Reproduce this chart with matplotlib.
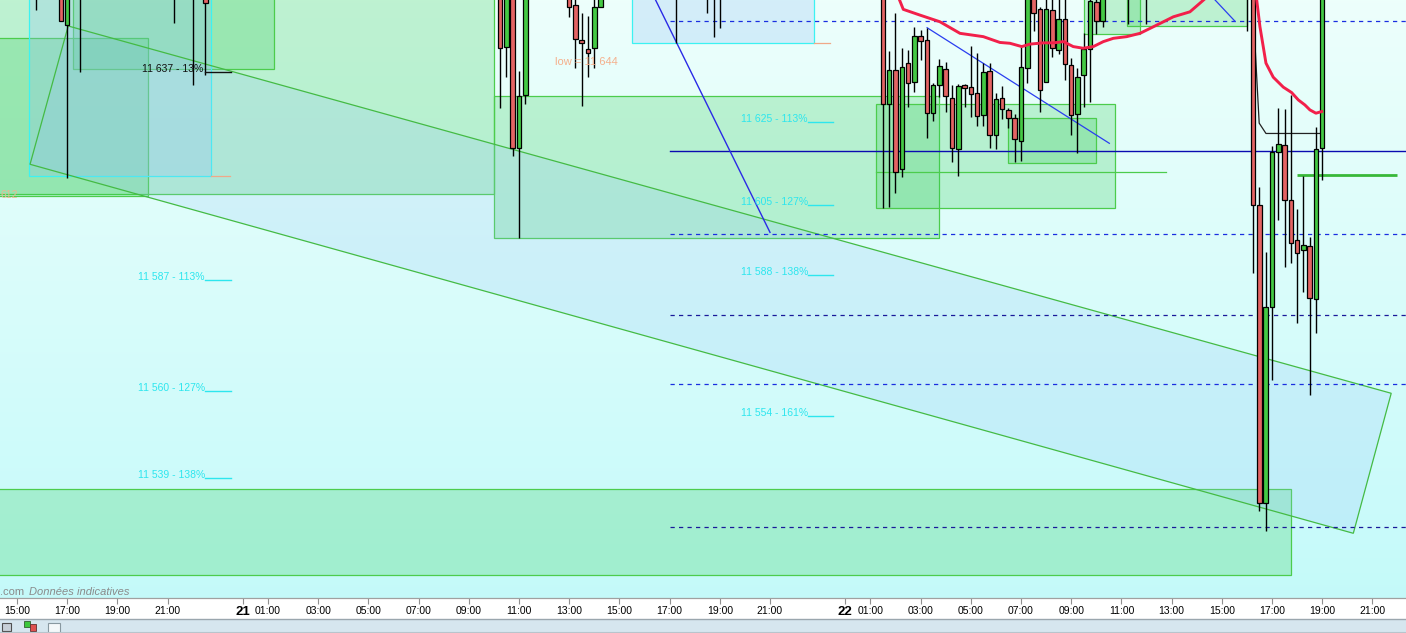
import matplotlib
matplotlib.use('Agg')
import matplotlib.pyplot as plt
from matplotlib.patches import Rectangle, Polygon
import numpy as np

plt.rcParams['font.family'] = ['Liberation Sans', 'DejaVu Sans']

# ------------------------------------------------------------------ data
# 15-minute candles, time = "day hh:mm"
candle_time = [
    '20 15:45', '20 16:45', '20 17:00', '20 17:30', '20 21:15', '20 22:00', '20 22:30',
    '21 10:15', '21 10:30', '21 10:45', '21 11:00', '21 11:15',
    '21 13:00', '21 13:15', '21 13:30', '21 13:45', '21 14:00', '21 14:15',
    '21 17:15', '21 18:30', '21 18:45', '21 19:00',
    '22 01:30', '22 01:45', '22 02:00', '22 02:15', '22 02:30', '22 02:45',
    '22 03:00', '22 03:15', '22 03:30', '22 03:45', '22 04:00', '22 04:15',
    '22 04:30', '22 04:45', '22 05:00', '22 05:15', '22 05:30', '22 05:45',
    '22 06:00', '22 06:15', '22 06:30', '22 06:45', '22 07:00', '22 07:15',
    '22 07:30', '22 07:45', '22 08:00', '22 08:15', '22 08:30', '22 08:45',
    '22 09:00', '22 09:15', '22 09:30', '22 09:45', '22 10:00', '22 10:15',
    '22 11:15', '22 12:00', '22 16:00',
    '22 16:15', '22 16:30', '22 16:45', '22 17:00', '22 17:15', '22 17:30',
    '22 17:45', '22 18:00', '22 18:15', '22 18:30', '22 18:45', '22 19:00',
]
candle_open = [
    11658, 11658, 11648.5, 11660, 11662, 11660, 11660,
    11660, 11643.3, 11660, 11618.7, 11631.6,
    11658, 11653.3, 11644.8, 11642.6, 11642.9, 11652.8,
    11660, 11662, 11660, 11662,
    11662, 11629.5, 11637.6, 11613.6, 11639.3, 11634.7,
    11645.8, 11644.8, 11627.3, 11633.9, 11637.8, 11630.8,
    11618.5, 11633.9, 11633.5, 11632.0, 11626.7, 11637.3,
    11621.9, 11630.8, 11627.9, 11626.0, 11620.4, 11638.1,
    11660, 11652.3, 11634.7, 11652.1, 11642.4, 11649.9,
    11638.8, 11626.9, 11636.4, 11642.6, 11654.0, 11649.4,
    11660, 11660, 11662,
    11662, 11604.9, 11533.1, 11580.3, 11617.9, 11619.4,
    11606.2, 11596.5, 11594.1, 11595.0, 11582.2, 11618.9,
]
candle_high = [
    11668, 11662, 11660, 11667, 11668, 11666, 11663,
    11662, 11663, 11662, 11637.4, 11661,
    11660, 11657, 11651.3, 11650.7, 11656, 11660,
    11665, 11666, 11664, 11665,
    11665, 11642.2, 11651.3, 11642.9, 11642.5, 11648.1,
    11647.3, 11647.7, 11634.5, 11640.2, 11639.5, 11634.1,
    11634.2, 11634.2, 11643.4, 11641.7, 11639.3, 11639.3,
    11632.2, 11633.7, 11628.5, 11627.0, 11643.3, 11664,
    11663, 11652.9, 11657, 11656, 11656, 11656,
    11640.5, 11638.1, 11646.5, 11657, 11657, 11660,
    11665, 11665, 11668,
    11668, 11609.3, 11593.6, 11619.2, 11628.4, 11628.1,
    11631.6, 11604.0, 11612.0, 11597.3, 11623.8, 11668,
]
candle_low = [
    11652.1, 11649.5, 11611.5, 11637.2, 11649.0, 11634.0, 11636.4,
    11628.4, 11636.0, 11616.9, 11597.1, 11629.4,
    11650.5, 11638.2, 11629.0, 11636.0, 11638.2, 11652.8,
    11644.1, 11651.3, 11645.5, 11647.7,
    11604.4, 11604.6, 11607.8, 11611.7, 11628.8, 11632.4,
    11640.1, 11621.3, 11625.4, 11631.2, 11627.6, 11615.5,
    11611.9, 11628.6, 11626.4, 11624.1, 11624.2, 11618.9,
    11618.6, 11625.7, 11623.6, 11615.5, 11615.7, 11634.4,
    11647.1, 11627.4, 11634.7, 11640.7, 11641.4, 11635.2,
    11622.0, 11617.5, 11628.6, 11629.8, 11646.3, 11648.1,
    11648.8, 11648.7, 11647.1,
    11588.6, 11531.1, 11526.3, 11562.7, 11601.4, 11590.1,
    11590.9, 11576.6, 11584.1, 11559.2, 11574.1, 11611.0,
]
candle_close = [
    11663, 11649.5, 11657, 11664, 11660, 11663, 11653.8,
    11642.9, 11660, 11618.7, 11631.4, 11658,
    11652.9, 11645.2, 11644.1, 11641.7, 11652.8, 11658,
    11662, 11660, 11662, 11660,
    11629.5, 11637.6, 11613.0, 11638.3, 11634.4, 11645.8,
    11644.6, 11627.2, 11633.9, 11638.5, 11631.3, 11618.7,
    11633.7, 11633.2, 11631.8, 11626.5, 11637.1, 11621.9,
    11630.6, 11628.1, 11626.0, 11620.9, 11638.3, 11660,
    11651.5, 11632.7, 11652.3, 11642.9, 11649.9, 11639.0,
    11626.7, 11635.9, 11642.6, 11654.2, 11649.4, 11658,
    11662, 11662, 11665,
    11604.9, 11533.1, 11580.4, 11617.9, 11619.7, 11606.2,
    11595.8, 11593.3, 11595.3, 11582.5, 11618.6, 11665,
]

# moving average (red) – hours since 21st 00:00, price
ma_hours = [26.0, 26.31, 26.98, 27.77, 28.57, 29.50, 30.16, 30.56, 31.03, 31.36,
            31.89, 32.29, 32.69, 33.08, 33.48, 33.88, 34.28, 34.68, 35.21, 35.74,
            36.41, 37.07, 37.73, 38.13, 38.73, 39.3, 40.0, 40.39, 40.52, 40.76,
            41.05, 41.45, 41.78, 42.05, 42.31, 42.51, 42.75, 42.98]
ma_value = [11657.0, 11652.3, 11650.9, 11649.3, 11646.5, 11645.7, 11644.3, 11644.1,
            11643.3, 11643.9, 11644.2, 11644.2, 11644.5, 11643.3, 11642.9, 11643.3,
            11644.5, 11645.3, 11645.7, 11646.5, 11648.5, 11650.5, 11651.7, 11653.8,
            11657.0, 11662.0, 11660.0, 11654.6, 11648.1, 11639.3, 11635.9, 11633.5,
            11632.2, 11630.4, 11629.2, 11628.0, 11627.2, 11627.6]

# grey trailing line
trail_hours = [40.25, 40.32, 40.44, 40.49, 40.76, 43.02]
trail_value = [11660.0, 11644.2, 11630.4, 11624.8, 11622.3, 11622.3]

# fibonacci level labels
levels_left = [11587, 11560, 11539]
levels_left_pct = ['113%', '127%', '138%']
levels_mid = [11625, 11605, 11588, 11554]
levels_mid_pct = ['113%', '127%', '138%', '161%']
level_13 = 11637
low_value = 11644

# horizontal lines from 21st 17:00
dashed_levels = [11649.4, 11597.9, 11578.35, 11561.7, 11527.1]
dashed_colors = ['#1a2ee0', '#1a2ee0', '#1a1a9a', '#1a2ee0', '#1a1a9a']
solid_level = 11618.0

# x axis ticks (hours since 21st 00:00)
tick_hours = [-9, -7, -5, -3, 0] + list(range(1, 22, 2)) + [24] + list(range(25, 46, 2))


def th(s):
    d, hm = s.split()
    hh, mm = hm.split(':')
    return (int(d) - 21) * 24 + int(hh) + int(mm) / 60.0


def fmt(v):
    return f"{v:,}".replace(',', ' ')


# ------------------------------------------------------------------ figure
W, H = 1406, 633
fig = plt.figure(figsize=(W / 100, H / 100), dpi=100)
fig.patch.set_facecolor('white')
ax = fig.add_axes([0, 35 / H, 1, 598 / H])
XL = (-9.677, 46.339)
YL = (11510.02, 11654.56)

# background gradient
top = np.array([0.93, 1.0, 0.985])
bot = np.array([0.77, 0.98, 0.98])
t = np.linspace(0, 1, 256)[:, None]
grad = (top[None, :] * (1 - t) + bot[None, :] * t)[:, None, :]
ax.imshow(grad, extent=[XL[0], XL[1], YL[0], YL[1]], aspect='auto', zorder=0,
          interpolation='bilinear')

GREEN_F = (0.2, 0.8, 0.33, 0.25)
GREEN_E = '#4ccc4c'
BLUE_F = (0.55, 0.75, 0.97, 0.26)
CYAN_E = '#3cf2f2'

boxes = [
    (-10.5, 10.02, 11607.6, 11670, GREEN_F, GREEN_E),
    (-10.5, -3.78, 11607.2, 11645.3, GREEN_F, GREEN_E),
    (-6.76, 1.25, 11637.8, 11670, GREEN_F, GREEN_E),
    (-8.51, -1.26, 11612.0, 11670, BLUE_F, CYAN_E),
    (10.02, 27.75, 11596.96, 11631.4, GREEN_F, GREEN_E),
    (25.23, 34.76, 11604.2, 11629.4, GREEN_F, GREEN_E),
    (30.49, 34.0, 11615.1, 11626.0, GREEN_F, GREEN_E),
    (33.5, 35.74, 11646.3, 11670, GREEN_F, GREEN_E),
    (35.24, 40.02, 11648.3, 11670, GREEN_F, GREEN_E),
    (-10.5, 41.76, 11515.6, 11536.4, GREEN_F, GREEN_E),
    (15.51, 22.76, 11644.1, 11670, BLUE_F, CYAN_E),
]
for h0, h1, p0, p1, fc, ec in boxes:
    ax.add_patch(Rectangle((h0, p0), h1 - h0, p1 - p0, facecolor=fc,
                           edgecolor=ec, lw=0.9, zorder=1))

# channel (rotated rectangle)
chan = [(-8.48, 11614.85), (-6.96, 11648.28), (45.75, 11559.50), (44.24, 11525.66)]
ax.add_patch(Polygon(chan, closed=True, facecolor=(0.58, 0.76, 0.97, 0.2),
                     edgecolor='#44bb44', lw=0.9, zorder=1.5))

# small salmon marks
ax.plot([-1.26, -0.5], [11612.0, 11612.0], color='#f0a888', lw=0.9, zorder=2)
ax.plot([22.76, 23.39], [11644.1, 11644.1], color='#f0a888', lw=0.9, zorder=2)

# horizontal levels
for lv, c in zip(dashed_levels, dashed_colors):
    ax.plot([17.0, XL[1]], [lv, lv], color=c, lw=0.9, ls=(0, (3.4, 3.4)), zorder=2)
ax.plot([17.0, XL[1]], [solid_level, solid_level], color='#0a0ab0', lw=1.0, zorder=2)
ax.plot([25.23, 36.78], [11612.9, 11612.9], color=GREEN_E, lw=0.9, zorder=2)
ax.plot([42.0, 45.98], [11612.3, 11612.3], color='#38b838', lw=2.0, zorder=3,
        solid_capstyle='butt')

# blue trend lines
ax.plot([16.0, 21.0], [11660.0, 11598.4], color='#2a2ae6', lw=1.0, zorder=2)
ax.plot([27.26, 34.52], [11647.86, 11619.92], color='#2a3ef0', lw=0.9, zorder=2)
ax.plot([38.0, 39.53], [11659.3, 11649.4], color='#2a3ef0', lw=0.9, zorder=2)

# grey trailing line
ax.plot(trail_hours, trail_value, color='#222222', lw=0.9, zorder=3)

# candles
bw = 0.18
for s, o, hi, lo, c in zip(candle_time, candle_open, candle_high, candle_low, candle_close):
    x = th(s)
    ax.plot([x, x], [lo, hi], color='black', lw=1.0, zorder=5, solid_capstyle='butt')
    col = '#44c944' if c >= o else '#e46464'
    b0, b1 = min(o, c), max(o, c)
    ax.add_patch(Rectangle((x - bw / 2, b0), bw, max(b1 - b0, 0.4), facecolor=col,
                           edgecolor='black', lw=0.9, zorder=6))

# moving average
ax.plot(ma_hours, ma_value, color='#f2204a', lw=2.1, zorder=7, solid_joinstyle='round')

# labels
LBL = '#2de6ee'
for lv, pc in zip(levels_left, levels_left_pct):
    ax.text(-1.51, lv, f"{fmt(lv)} - {pc}", color=LBL, fontsize=7.5, ha='right',
            va='baseline', zorder=8)
    ax.plot([-1.51, -0.47], [lv, lv], color=LBL, lw=1.0, zorder=8)
for lv, pc in zip(levels_mid, levels_mid_pct):
    ax.text(22.51, lv, f"{fmt(lv)} - {pc}", color=LBL, fontsize=7.5, ha='right',
            va='baseline', zorder=8)
    ax.plot([22.51, 23.51], [lv, lv], color=LBL, lw=1.0, zorder=8)

ax.text(-1.59, 11637.2, f"{fmt(level_13)} - 13%", color='#111111', fontsize=7.5,
        ha='right', va='baseline', zorder=8)
ax.plot([-1.51, -0.47], [11637.2, 11637.2], color='#111111', lw=1.0, zorder=8)
ax.text(12.43, 11638.9, f"low = {fmt(low_value)}", color='#f5b08c', fontsize=8,
        ha='left', va='baseline', zorder=8)
ax.text(-9.67, 11606.6, "612", color='#e8b890', fontsize=7.5, ha='left',
        va='baseline', zorder=8)

# watermark
fig.text(0 / W, 1 - 595 / H, ".com", color='#8a8a8a', fontsize=8, ha='left',
         va='baseline')
fig.text(29 / W, 1 - 595 / H, "Données indicatives", color='#8a8a8a', fontsize=8,
         ha='left', va='baseline', style='italic')

ax.set_xlim(*XL)
ax.set_ylim(*YL)

# axes styling
for sp in ['top', 'left', 'right']:
    ax.spines[sp].set_visible(False)
ax.spines['bottom'].set_color('#a0a0a0')
ax.spines['bottom'].set_linewidth(0.9)
ax.set_yticks([])
labels = []
for h in tick_hours:
    day = 21 + h // 24
    hr = h % 24
    labels.append(str(day) if hr == 0 else f"{hr:02d}:00")
ax.set_xticks(tick_hours)
ax.set_xticklabels(labels)
ax.tick_params(axis='x', direction='out', length=4, color='#909090', width=0.8,
               labelsize=7.5, pad=2.0, labelcolor='black')
for h, lab in zip(tick_hours, ax.get_xticklabels()):
    if h % 24 == 0:
        lab.set_fontweight('bold')
        lab.set_fontsize(9.5)

# bottom toolbar
fig.patches.append(Rectangle((0, 0), 1, 14 / H, transform=fig.transFigure,
                             facecolor='#d6e6ef', edgecolor='none', zorder=0))
fig.lines.append(plt.Line2D([0, 1], [14 / H, 14 / H], transform=fig.transFigure,
                            color='#9aa6ae', lw=1.0))
fig.lines.append(plt.Line2D([0, 1], [1 / H, 1 / H], transform=fig.transFigure,
                            color='#b8c4cc', lw=0.8))
fig.patches.append(Rectangle((2 / W, 2 / H), 9 / W, 8 / H, transform=fig.transFigure,
                             facecolor='#c8d0d8', edgecolor='#505050', lw=0.8))
fig.patches.append(Rectangle((24 / W, 6 / H), 6 / W, 6 / H, transform=fig.transFigure,
                             facecolor='#3cc83c', edgecolor='#306030', lw=0.6))
fig.patches.append(Rectangle((30 / W, 2 / H), 6 / W, 7 / H, transform=fig.transFigure,
                             facecolor='#e05050', edgecolor='#603030', lw=0.6))
fig.patches.append(Rectangle((48 / W, 0 / H), 12 / W, 10 / H, transform=fig.transFigure,
                             facecolor='#f4f8fa', edgecolor='#8898a0', lw=0.8))

fig.savefig('out.png', dpi=100)
